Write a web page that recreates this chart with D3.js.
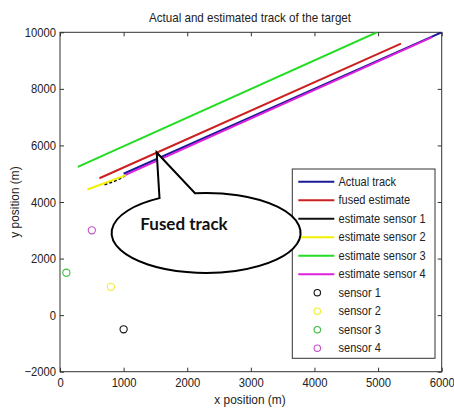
<!DOCTYPE html>
<html>
<head>
<meta charset="utf-8">
<script src="https://cdn.jsdelivr.net/npm/d3@7"></script>
<style>
  html, body { margin: 0; padding: 0; background: #fff; }
  svg { display: block; }
  .ax text { font-family: "Liberation Sans", Arial, sans-serif; font-size: 12.5px; fill: #222; }
</style>
</head>
<body>
<svg id="chart" width="454" height="411"></svg>
<script>
// Sensor positions (x, y) in metres
const sensorPositions = [[1000, -500], [800, 1000], [100, 1500], [500, 3000]];

// Track polylines (x, y) in metres
const actualTrack = [[1000, 5000], [6000, 10000]];
const fusedEstimate = [[620, 4840], [5360, 9600]];
const estimateSensor1 = [[700, 4610], [760, 4660], [820, 4700], [880, 4760], [940, 4820], [1000, 4900], [1050, 4980]];
const estimateSensor2 = [[430, 4440], [1040, 4950]];
const estimateSensor3 = [[280, 5240], [4980, 10000]];
const estimateSensor4 = [[1030, 4960], [5850, 9830]];

// Axis ticks
const xTicks = [0, 1000, 2000, 3000, 4000, 5000, 6000];
const yTicks = [-2000, 0, 2000, 4000, 6000, 8000, 10000];

// Legend entries
const lineLabels = ["Actual track", "fused estimate", "estimate sensor 1", "estimate sensor 2", "estimate sensor 3", "estimate sensor 4"];
const sensorLabels = ["sensor 1", "sensor 2", "sensor 3", "sensor 4"];

const lineColors = ["#1a1a96", "#cc2020", "#111111", "#f2f200", "#22dd22", "#dd22dd"];
const sensorColors = ["#111111", "#eeee30", "#3cbc3c", "#c050c8"];
const tracks = [actualTrack, fusedEstimate, estimateSensor1, estimateSensor2, estimateSensor3, estimateSensor4];

const svg = d3.select("#chart");
const L = 60, R = 441.7, T = 32.3, B = 371.7;
const font = '"Liberation Sans", Arial, sans-serif';

const x = d3.scaleLinear().domain([0, 6000]).range([L, R]);
const y = d3.scaleLinear().domain([-2000, 10000]).range([B, T]);

// Draws text anchored at (px, py) with a horizontally narrowed face
function squeezed(parent, px, py, str, size, sx, anchor, rotate) {
  return parent.append("text")
    .attr("transform", `translate(${px},${py})${rotate ? ` rotate(${rotate})` : ""} scale(${sx},1)`)
    .attr("text-anchor", anchor || "start")
    .attr("font-family", font).attr("font-size", size).attr("fill", "#222")
    .text(str);
}

// Frame
svg.append("rect")
  .attr("x", L).attr("y", T).attr("width", R - L).attr("height", B - T)
  .attr("fill", "#fff").attr("stroke", "#333").attr("stroke-width", 1);

// Axes with inward ticks on all four sides
const tickLen = 4, sxTick = 0.9;
svg.append("g").attr("class", "ax").attr("transform", `translate(0,${B})`)
  .call(d3.axisBottom(x).tickValues(xTicks).tickSizeInner(-tickLen).tickSizeOuter(0).tickPadding(6).tickFormat(d3.format("d")))
  .call(g => g.select(".domain").remove())
  .call(g => g.selectAll("line").attr("stroke", "#333"))
  .call(g => g.selectAll("text").attr("transform", `scale(${sxTick},1)`));
svg.append("g").attr("class", "ax").attr("transform", `translate(0,${T})`)
  .call(d3.axisTop(x).tickValues(xTicks).tickSizeInner(-tickLen).tickSizeOuter(0).tickFormat(""))
  .call(g => g.select(".domain").remove())
  .call(g => g.selectAll("line").attr("stroke", "#333"));
svg.append("g").attr("class", "ax").attr("transform", `translate(${L},0)`)
  .call(d3.axisLeft(y).tickValues(yTicks).tickSizeInner(-tickLen).tickSizeOuter(0).tickPadding(5).tickFormat(d3.format("d")))
  .call(g => g.select(".domain").remove())
  .call(g => g.selectAll("line").attr("stroke", "#333"))
  .call(g => g.selectAll("text").attr("x", -4 / sxTick).attr("transform", `scale(${sxTick},1)`));
svg.append("g").attr("class", "ax").attr("transform", `translate(${R},0)`)
  .call(d3.axisRight(y).tickValues(yTicks).tickSizeInner(-tickLen).tickSizeOuter(0).tickFormat(""))
  .call(g => g.select(".domain").remove())
  .call(g => g.selectAll("line").attr("stroke", "#333"));

// Clip region for the plotted data
svg.append("clipPath").attr("id", "plotClip")
  .append("rect").attr("x", L).attr("y", T).attr("width", R - L).attr("height", B - T);
const plot = svg.append("g").attr("clip-path", "url(#plotClip)");

const line = d3.line().x(d => x(d[0])).y(d => y(d[1]));
tracks.forEach((t, i) => {
  plot.append("path")
    .attr("d", line(t))
    .attr("fill", "none")
    .attr("stroke", lineColors[i])
    .attr("stroke-width", i === 2 ? 1.6 : 2)
    .attr("stroke-dasharray", i === 2 ? "3,2" : null)
    .attr("stroke-linejoin", "round");
});

plot.selectAll("circle.sensor").data(sensorPositions).join("circle")
  .attr("class", "sensor")
  .attr("cx", d => x(d[0])).attr("cy", d => y(d[1])).attr("r", 3.6)
  .attr("fill", "none")
  .attr("stroke", (d, i) => sensorColors[i])
  .attr("stroke-width", 1.1);

// Title and axis labels
squeezed(svg, 250, 21.5, "Actual and estimated track of the target", 12.5, 0.93, "middle");
squeezed(svg, 250, 404, "x position (m)", 12.5, 0.95, "middle");
squeezed(svg, 19, (T + B) / 2, "y position (m)", 12.5, 0.95, "middle", -90);

// Legend
const lg = svg.append("g");
lg.append("rect").attr("x", 292.3).attr("y", 169).attr("width", 142.7).attr("height", 189.3)
  .attr("fill", "#fff").attr("stroke", "#333").attr("stroke-width", 1);
const rowY = i => 181.7 + i * 18.5;
lineLabels.forEach((lab, i) => {
  lg.append("line").attr("x1", 298.3).attr("x2", 334.3).attr("y1", rowY(i)).attr("y2", rowY(i))
    .attr("stroke", lineColors[i]).attr("stroke-width", 2);
  squeezed(lg, 338.5, rowY(i) + 4.2, lab, 12, 0.92);
});
sensorLabels.forEach((lab, j) => {
  const i = j + lineLabels.length;
  lg.append("circle").attr("cx", 317.3).attr("cy", rowY(i)).attr("r", 3.2)
    .attr("fill", "none").attr("stroke", sensorColors[j]).attr("stroke-width", 1.1);
  squeezed(lg, 338.5, rowY(i) + 4.2, lab, 12, 0.92);
});

// Callout bubble pointing at the fused track
const cx = 192, cy = 231.7, rx = 94.5, ry = 40;
const tip = [x(1520), y(5750)];
const onTop = px => [px, cy - ry * Math.sqrt(1 - ((px - cx) / rx) ** 2)];
const baseL = onTop(159.5), baseR = onTop(195);
const bubble = svg.append("g");
bubble.append("path")
  .attr("d", `M${baseL[0]},${baseL[1] + 4} L${tip[0]},${tip[1]} L${baseR[0]},${baseR[1] + 1.5} A${rx},${ry} 0 1 1 ${baseL[0]},${baseL[1] + 4} Z`)
  .attr("fill", "#fff").attr("stroke", "#000").attr("stroke-width", 2).attr("stroke-linejoin", "miter");
bubble.append("text").attr("x", 184).attr("y", 230).attr("text-anchor", "middle")
  .attr("font-family", "Lato, 'Open Sans', sans-serif").attr("font-weight", "bold").attr("font-size", 17)
  .attr("fill", "#111").text("Fused track");
</script>
</body>
</html>
